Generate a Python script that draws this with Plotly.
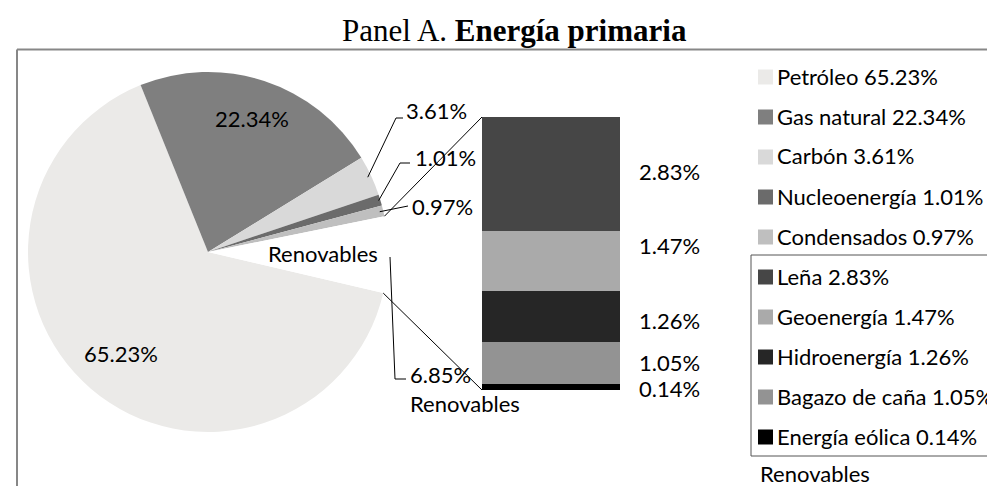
import math
import plotly.graph_objects as go

# ---------------- data ----------------
pie_labels = ["Petróleo", "Gas natural", "Carbón", "Nucleoenergía", "Condensados", "Renovables"]
pie_values = [65.23, 22.34, 3.61, 1.01, 0.97, 6.85]
pie_colors = ["#EBEAE8", "#7F7F7F", "#D9D9D9", "#6B6B6B", "#BFBFBF", "#FFFFFF"]

ren_labels = ["Leña", "Geoenergía", "Hidroenergía", "Bagazo de caña", "Energía eólica"]
ren_values = [2.83, 1.47, 1.26, 1.05, 0.14]
ren_colors = ["#464646", "#AAAAAA", "#262626", "#939393", "#000000"]

title_regular = "Panel A. "
title_bold = "Energía primaria"
group_name = "Renovables"

# ---------------- geometry helpers ----------------
W, H = 995, 486
FONT = "Lato"
FS = 22


def px(x):
    return x / W


def py(y):
    return 1 - y / H


def fmt(v):
    return f"{v:.2f}%"


pie_cx, pie_cy, pie_r = 200, 244, 180
rotation = 103.2
bar_x0, bar_x1, bar_y0, bar_y1 = 474, 612, 109, 382

fig = go.Figure()

fig.add_trace(go.Pie(
    labels=pie_labels,
    values=pie_values,
    marker=dict(colors=pie_colors, line=dict(width=0)),
    sort=False,
    direction="clockwise",
    rotation=rotation,
    textinfo="none",
    hoverinfo="label+value",
    showlegend=False,
    domain=dict(x=[px(pie_cx - pie_r), px(pie_cx + pie_r)],
                y=[py(pie_cy + pie_r), py(pie_cy - pie_r)]),
))

# stacked bar of the "Renovables" breakdown (bottom = last item)
for lab, val, col in reversed(list(zip(ren_labels, ren_values, ren_colors))):
    fig.add_trace(go.Bar(
        x=[0], y=[val], name=lab, width=1,
        marker=dict(color=col, line=dict(width=0)),
        showlegend=False, hovertemplate=lab + ": %{y:.2f}%<extra></extra>",
    ))

ren_total = sum(ren_values)
fig.update_layout(
    barmode="stack",
    width=W, height=H,
    margin=dict(l=0, r=0, t=0, b=0),
    paper_bgcolor="white", plot_bgcolor="rgba(0,0,0,0)",
    font=dict(family=FONT, size=FS, color="black"),
    xaxis=dict(domain=[px(bar_x0), px(bar_x1)], range=[-0.5, 0.5], visible=False, fixedrange=True),
    yaxis=dict(domain=[py(bar_y1), py(bar_y0)], range=[0, ren_total], visible=False, fixedrange=True),
    showlegend=False,
)

ann = []
shapes = []


def text(x, y, s, anchor="left", **kw):
    d = dict(xref="paper", yref="paper", x=px(x), y=py(y), text=s, showarrow=False,
             xanchor=anchor, yanchor="middle")
    d.update(kw)
    ann.append(d)


# title
ann.append(dict(xref="paper", yref="paper", x=px(506), y=py(22),
                text=title_regular + "<b>" + title_bold + "</b>", showarrow=False,
                font=dict(family="Liberation Serif", size=31, color="black"),
                xanchor="center", yanchor="middle"))

# chart frame (top + left)
shapes.append(dict(type="line", xref="paper", yref="paper", x0=px(9), x1=px(1000), y0=py(41.5), y1=py(41.5),
                   line=dict(color="#878787", width=2)))
shapes.append(dict(type="line", xref="paper", yref="paper", x0=px(9), x1=px(9), y0=py(41.5), y1=py(490),
                   line=dict(color="#878787", width=2)))

# slice angles (clockwise from 12 o'clock)
tot = sum(pie_values)
angles = []
a = rotation
for v in pie_values:
    a0 = a
    a += v / tot * 360
    angles.append((a0, a))


def pie_pt(ang, rr):
    t = math.radians(ang)
    return pie_cx + rr * math.sin(t), pie_cy - rr * math.cos(t)


# labels inside big slices
for i, rf in [(0, 0.74), (1, 0.78)]:
    mid = (angles[i][0] + angles[i][1]) / 2
    x, y = pie_pt(mid, pie_r * rf)
    text(x, y, fmt(pie_values[i]), anchor="center")

# small slices with leader lines: (index, text-left x, text y, leader path points)
small = [
    (2, 396, 103, 0.98, [(388, 110), (395, 110)]),
    (3, 405, 149, 0.99, [(392, 155), (402, 155)]),
    (4, 402, 198, 0.98, [(400, 198)]),
]
for i, tx, ty, rf, pts in small:
    mid = (angles[i][0] + angles[i][1]) / 2
    sx, sy = pie_pt(mid, pie_r * rf)
    path = f"M{px(sx)},{py(sy)}" + "".join(f" L{px(x)},{py(y)}" for x, y in pts)
    shapes.append(dict(type="path", xref="paper", yref="paper", path=path,
                       line=dict(color="black", width=1)))
    text(tx, ty, fmt(pie_values[i]))

# Renovables slice labels
text(315, 245, group_name, anchor="center")
shapes.append(dict(type="path", xref="paper", yref="paper",
                   path=f"M{px(382)},{py(249)} L{px(387)},{py(371)} L{px(398)},{py(371)}",
                   line=dict(color="black", width=1)))
text(400, 366, fmt(pie_values[5]))
text(400, 395, group_name)

# connector lines from bar corners to renovables slice edges
ra0, ra1 = angles[5]
e0 = pie_pt(ra0, pie_r)
e1 = pie_pt(ra1, pie_r)
shapes.append(dict(type="line", xref="paper", yref="paper", x0=px(bar_x0), y0=py(bar_y0),
                   x1=px(e0[0]), y1=py(e0[1]), line=dict(color="black", width=1)))
shapes.append(dict(type="line", xref="paper", yref="paper", x0=px(bar_x0), y0=py(bar_y1),
                   x1=px(e1[0]), y1=py(e1[1]), line=dict(color="black", width=1)))

# bar segment labels
label_shift = [3, 16, -4, 1, -1]
cum = ren_total
for lab, val, sh in zip(ren_labels, ren_values, label_shift):
    mid = cum - val / 2
    cum -= val
    ann.append(dict(xref="x domain", yref="y", x=1.123, y=mid, yshift=sh, text=fmt(val),
                    showarrow=False, xanchor="left", yanchor="middle"))

# legend (manual, to match row spacing)
SW = 15
leg_x = 750
row = 40
items = [(l, v, c) for l, v, c in zip(pie_labels[:5], pie_values[:5], pie_colors[:5])]
items += list(zip(ren_labels, ren_values, ren_colors))
for k, (lab, val, col) in enumerate(items):
    yc = 68 + k * row
    shapes.append(dict(type="rect", xref="paper", yref="paper",
                       x0=px(leg_x), x1=px(leg_x + SW), y0=py(yc - SW / 2 + 1), y1=py(yc + SW / 2 + 1),
                       fillcolor=col, line=dict(width=0)))
    text(leg_x + SW + 2, yc, f"{lab} {fmt(val)}")

# box around renovables legend entries
shapes.append(dict(type="path", xref="paper", yref="paper",
                   path=f"M{px(1000)},{py(247)} L{px(743)},{py(247)} L{px(743)},{py(448)} L{px(1000)},{py(448)}",
                   line=dict(color="#555555", width=1)))
text(750, 465, group_name)

fig.update_layout(annotations=ann, shapes=shapes)
fig.write_html("out.html")
